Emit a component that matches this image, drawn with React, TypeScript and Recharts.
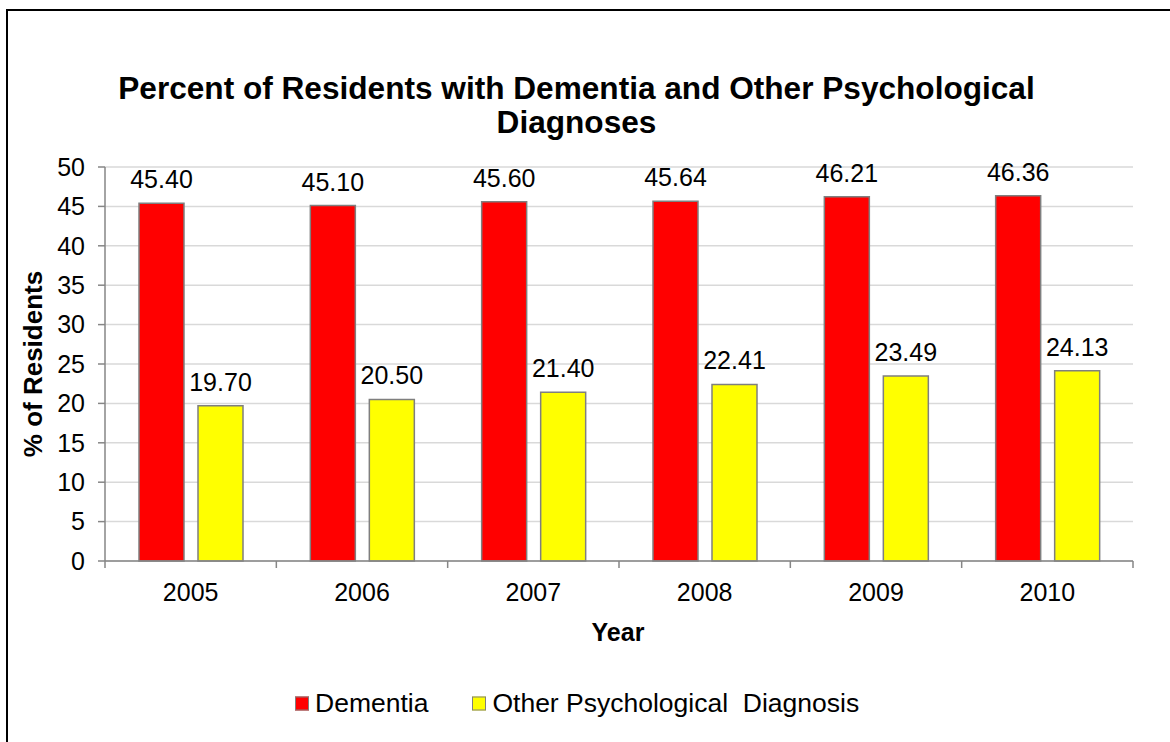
import { BarChart, Bar, XAxis, YAxis, CartesianGrid, LabelList } from "recharts"

const years = ["2005", "2006", "2007", "2008", "2009", "2010"]
const dementia = [45.4, 45.1, 45.6, 45.64, 46.21, 46.36]
const otherPsych = [19.7, 20.5, 21.4, 22.41, 23.49, 24.13]
const yTicks = [0, 5, 10, 15, 20, 25, 30, 35, 40, 45, 50]

const data = years.map((year, i) => ({
  year,
  dementia: dementia[i],
  otherPsych: otherPsych[i],
}))

// chart geometry
const W = 1170
const H = 742
const PLOT_LEFT = 105
const PLOT_RIGHT = 1133
const PLOT_TOP = 167
const PLOT_BOTTOM = 561
const Y_AXIS_W = 60
const X_AXIS_H = 40
const BAND = (PLOT_RIGHT - PLOT_LEFT) / years.length

const FONT = "'Liberation Sans', Arial, sans-serif"
const AXIS_GREY = "#868686"
const TEXT_SIZE = 25

// category labels in the middle, tick marks on the band edges (Excel style)
const YearTick = (props: any) => {
  const { x, y, payload, index } = props
  const half = BAND / 2
  return (
    <g>
      {index === 0 && <line x1={x - half} x2={x - half} y1={y} y2={y + 7} stroke={AXIS_GREY} strokeWidth={1.5} />}
      <line x1={x + half} x2={x + half} y1={y} y2={y + 7} stroke={AXIS_GREY} strokeWidth={1.5} />
      <text x={x} y={y + 40} textAnchor="middle" fontSize={TEXT_SIZE} fontFamily={FONT} fill="#000">
        {payload.value}
      </text>
    </g>
  )
}

const fmt = (v: any) => Number(v).toFixed(2)

export default function App() {
  return (
    <div style={{ position: "absolute", left: 0, top: 0, width: W, height: H, background: "#fff", fontFamily: FONT }}>
      <div
        style={{
          position: "absolute",
          left: 6,
          top: 9,
          width: W,
          height: H,
          border: "2px solid #000",
          boxSizing: "border-box",
        }}
      />
      <div
        style={{
          position: "absolute",
          left: 0,
          width: 1153,
          top: 71,
          textAlign: "center",
          fontWeight: "bold",
          fontSize: 31.6,
          lineHeight: "34px",
        }}
      >
        Percent of Residents with Dementia and Other Psychological
        <br />
        Diagnoses
      </div>

      <div
        style={{
          position: "absolute",
          left: 33,
          top: 364,
          transform: "translate(-50%, -50%) rotate(-90deg)",
          whiteSpace: "nowrap",
          fontWeight: "bold",
          fontSize: 26,
        }}
      >
        % of Residents
      </div>

      <div
        style={{
          position: "absolute",
          left: 618,
          top: 632,
          transform: "translate(-50%, -50%)",
          fontWeight: "bold",
          fontSize: TEXT_SIZE,
        }}
      >
        Year
      </div>

      <div style={{ position: "absolute", left: 0, top: 0 }}>
        <BarChart
          width={W}
          height={H}
          data={data}
          barSize={45}
          barGap={14}
          margin={{
            top: PLOT_TOP,
            left: PLOT_LEFT - Y_AXIS_W,
            right: W - PLOT_RIGHT,
            bottom: H - PLOT_BOTTOM - X_AXIS_H,
          }}
        >
          <CartesianGrid vertical={false} stroke="#d9d9d9" strokeWidth={1.5} />
          <XAxis
            dataKey="year"
            height={X_AXIS_H}
            stroke={AXIS_GREY}
            strokeWidth={1.5}
            tickLine={false}
            tickSize={0}
            tickMargin={0}
            interval={0}
            tick={<YearTick />}
          />
          <YAxis
            width={Y_AXIS_W}
            domain={[0, 50]}
            ticks={yTicks}
            interval={0}
            stroke={AXIS_GREY}
            strokeWidth={1.5}
            tickSize={7}
            tickMargin={13}
            tick={{ fill: "#000", fontSize: TEXT_SIZE, fontFamily: FONT }}
          />
          <Bar dataKey="dementia" fill="#ff0000" stroke="#7f7f7f" strokeWidth={1.5} isAnimationActive={false}>
            <LabelList dataKey="dementia" position="top" offset={15} formatter={fmt} fill="#000" fontSize={TEXT_SIZE} fontFamily={FONT} />
          </Bar>
          <Bar dataKey="otherPsych" fill="#ffff00" stroke="#7f7f7f" strokeWidth={1.5} isAnimationActive={false}>
            <LabelList dataKey="otherPsych" position="top" offset={15} formatter={fmt} fill="#000" fontSize={TEXT_SIZE} fontFamily={FONT} />
          </Bar>
        </BarChart>
      </div>

      <div
        style={{
          position: "absolute",
          left: 295,
          top: 703,
          transform: "translateY(-50%)",
          display: "flex",
          alignItems: "center",
          fontSize: 26.5,
          whiteSpace: "pre",
        }}
      >
        <span style={{ width: 14, height: 14, background: "#ff0000", border: "1.5px solid #7f7f7f", boxSizing: "border-box", marginRight: 6 }} />
        <span>Dementia</span>
        <span style={{ width: 14, height: 14, background: "#ffff00", border: "1.5px solid #7f7f7f", boxSizing: "border-box", marginLeft: 44, marginRight: 6 }} />
        <span>Other Psychological  Diagnosis</span>
      </div>
    </div>
  )
}
